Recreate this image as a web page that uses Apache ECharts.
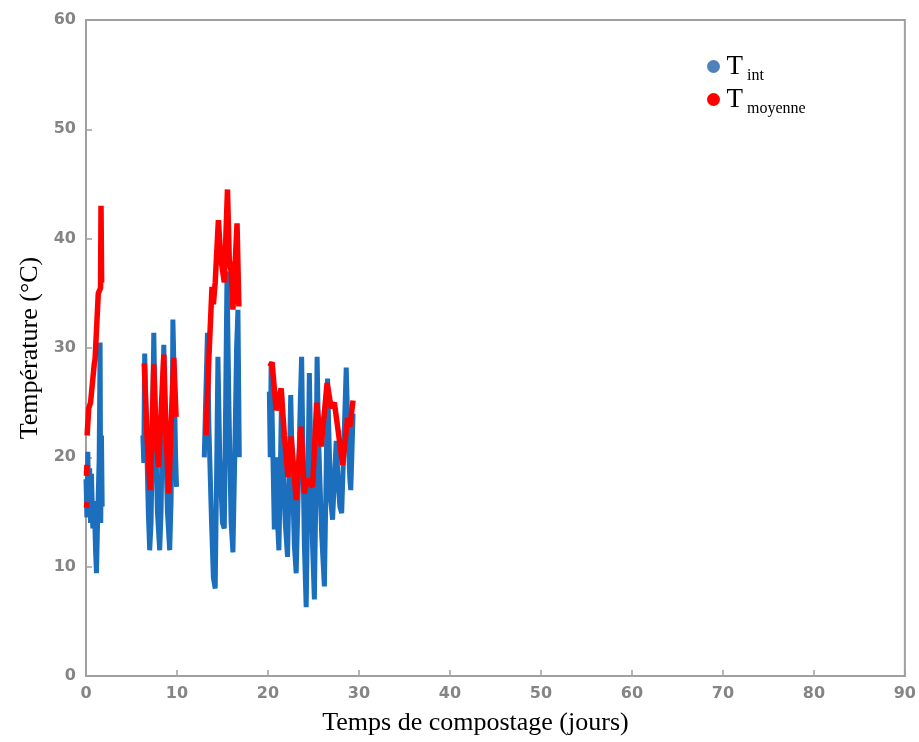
<!DOCTYPE html>
<html>
<head>
<meta charset="utf-8">
<script src="https://cdn.jsdelivr.net/npm/echarts@6/dist/echarts.min.js"></script>
<style>html,body{margin:0;padding:0;background:#fff}#c{width:919px;height:742px}</style>
</head>
<body>
<div id="c"></div>
<script>
var xTicks = [0,10,20,30,40,50,60,70,80,90];
var yTicks = [0,10,20,30,40,50,60];
var tintSeg1 = [[0.0,18],[0.1,14.5],[0.2,20.5],[0.3,15],[0.4,19],[0.5,14],[0.6,18.5],[0.75,13.5],[0.9,16],[1.05,11.5],[1.15,9.4],[1.3,15],[1.45,20],[1.55,30.5],[1.62,14],[1.7,22],[1.78,15.5]];
var tintSeg2 = [[6.25,22],[6.35,19.5],[6.45,29.5],[6.6,24],[6.85,15],[7.0,11.5],[7.15,14],[7.3,22],[7.45,31.4],[7.6,24],[7.85,15],[8.1,11.5],[8.25,15],[8.4,24],[8.55,30.3],[8.7,23],[8.95,15],[9.2,11.5],[9.35,16],[9.5,26],[9.55,32.6],[9.7,27],[9.85,20],[9.95,17.3]];
var tintSeg3 = [[13.0,20],[13.15,25],[13.35,31.4],[13.5,23],[13.8,14],[14.0,9],[14.2,8],[14.35,18],[14.5,29.2],[14.7,20],[15.0,14],[15.2,13.5],[15.35,25],[15.5,37],[15.7,25],[15.95,14],[16.15,11.3],[16.35,20],[16.55,30],[16.7,33.5],[16.85,20]];
var tintSeg4 = [[20.15,26],[20.25,20],[20.35,28.5],[20.5,22],[20.7,13.4],[20.85,20],[21.0,15],[21.2,11.5],[21.35,18],[21.5,26],[21.65,20],[21.9,14],[22.15,10.9],[22.3,17],[22.5,25.7],[22.7,18],[22.9,12],[23.1,9.4],[23.3,16],[23.55,25],[23.7,29.2],[23.85,20],[24.0,12],[24.2,6.3],[24.35,15],[24.55,27.7],[24.7,20],[24.9,12],[25.1,7.0],[25.25,16],[25.4,29.2],[25.55,22],[25.9,13],[26.2,8.2],[26.35,16],[26.55,27.2],[26.7,22],[26.9,16],[27.1,14.3],[27.3,18],[27.5,21.5],[27.7,18],[27.9,15.5],[28.1,14.9],[28.3,20],[28.6,28.2],[28.8,22],[29.0,18],[29.1,17],[29.25,21],[29.35,24]];
var tmoySeg1a = [[0.05,15.4],[0.1,15.9]];
var tmoySeg1b = [[0.05,18.3],[0.1,19.3]];
var tmoySeg1c = [[0.12,22],[0.3,24.5],[0.5,25],[0.9,28.5],[1.0,29],[1.35,35],[1.6,35.5],[1.65,43],[1.72,36]];
var tmoySeg2 = [[6.4,28.6],[6.7,22],[7.05,17],[7.25,22],[7.45,28.5],[7.7,22],[7.97,19.1],[8.25,24],[8.55,29.4],[8.8,22],[9.1,16.7],[9.35,23],[9.65,29.1],[9.9,23.7]];
var tmoySeg3 = [[13.2,22],[13.5,29],[13.85,35.6],[14.0,34],[14.2,36],[14.55,41.7],[14.8,38.3],[15.2,36],[15.55,44.5],[15.75,38],[15.95,37],[16.15,33.5],[16.35,37],[16.6,41.4],[16.8,33.8]];
var tmoySeg4 = [[20.2,28.3],[20.45,28.7],[20.9,24.3],[21.45,26.3],[21.8,22],[22.2,18.2],[22.55,21.9],[23.1,16.1],[23.65,22.8],[24.0,16.7],[24.3,18],[24.9,17.3],[25.35,25],[25.85,21],[26.5,26.8],[26.95,24.5],[27.3,25],[27.7,22.5],[28.2,19.3],[28.75,23.6],[29.0,22.8],[29.35,25.2]];

function join(segs){
  var out=[];
  segs.forEach(function(s,i){ if(i>0) out.push([s[0][0],'-']); out=out.concat(s); });
  return out;
}
var tint = join([tintSeg1,tintSeg2,tintSeg3,tintSeg4]);
var tmoy = join([tmoySeg1a,tmoySeg1b,tmoySeg1c,tmoySeg2,tmoySeg3,tmoySeg4]);

var chart = echarts.init(document.getElementById('c'));
var tickLabel = {color:'#858585', fontSize:16, fontWeight:'bold', fontFamily:'DejaVu Sans'};
chart.setOption({
  animation:false,
  backgroundColor:'#fff',
  grid:{left:86,right:12,top:20,bottom:66,show:true,borderColor:'#a0a0a0',borderWidth:2,containLabel:false},
  legend:{
    orient:'vertical', left:702, top:48, itemGap:2, icon:'circle', itemWidth:16, itemHeight:13,
    data:[{name:'Tint',itemStyle:{color:'#4f81bd'}},{name:'Tmoyenne',itemStyle:{color:'#ff0000'}}],
    formatter:function(n){ return n==='Tint' ? '{t|T}{s| int}' : '{t|T}{s| moyenne}'; },
    textStyle:{rich:{t:{fontFamily:'Liberation Serif',fontSize:27,color:'#000',verticalAlign:'bottom'},s:{fontFamily:'Liberation Serif',fontSize:16,color:'#000',verticalAlign:'bottom',padding:[0,0,-4,0]}}}
  },
  xAxis:{type:'value',min:0,max:90,interval:10,
    name:'Temps de compostage (jours)',nameLocation:'middle',nameGap:34,
    nameTextStyle:{fontFamily:'Liberation Serif',fontSize:26,color:'#000',padding:[0,40,0,0]},
    axisLine:{lineStyle:{color:'#a0a0a0',width:2}},
    axisTick:{inside:true,length:6,lineStyle:{color:'#a0a0a0',width:1.5}},
    axisLabel:Object.assign({margin:10},tickLabel),
    splitLine:{show:false}},
  yAxis:{type:'value',min:0,max:60,interval:10,
    name:'Température (°C)',nameLocation:'middle',nameGap:38,
    nameTextStyle:{fontFamily:'Liberation Serif',fontSize:26,color:'#000'},
    axisLine:{show:true,lineStyle:{color:'#a0a0a0',width:2}},
    axisTick:{show:true,inside:true,length:6,lineStyle:{color:'#a0a0a0',width:1.5}},
    axisLabel:Object.assign({margin:10},tickLabel),
    splitLine:{show:false}},
  series:[
    {name:'Tint',type:'line',data:tint,showSymbol:false,connectNulls:false,
     lineStyle:{color:'#1b6fbd',width:5},itemStyle:{color:'#1b6fbd'},z:2},
    {name:'Tmoyenne',type:'line',data:tmoy,showSymbol:false,connectNulls:false,
     lineStyle:{color:'#ff0000',width:5.5},itemStyle:{color:'#ff0000'},z:3}
  ]
});
</script>
</body>
</html>
